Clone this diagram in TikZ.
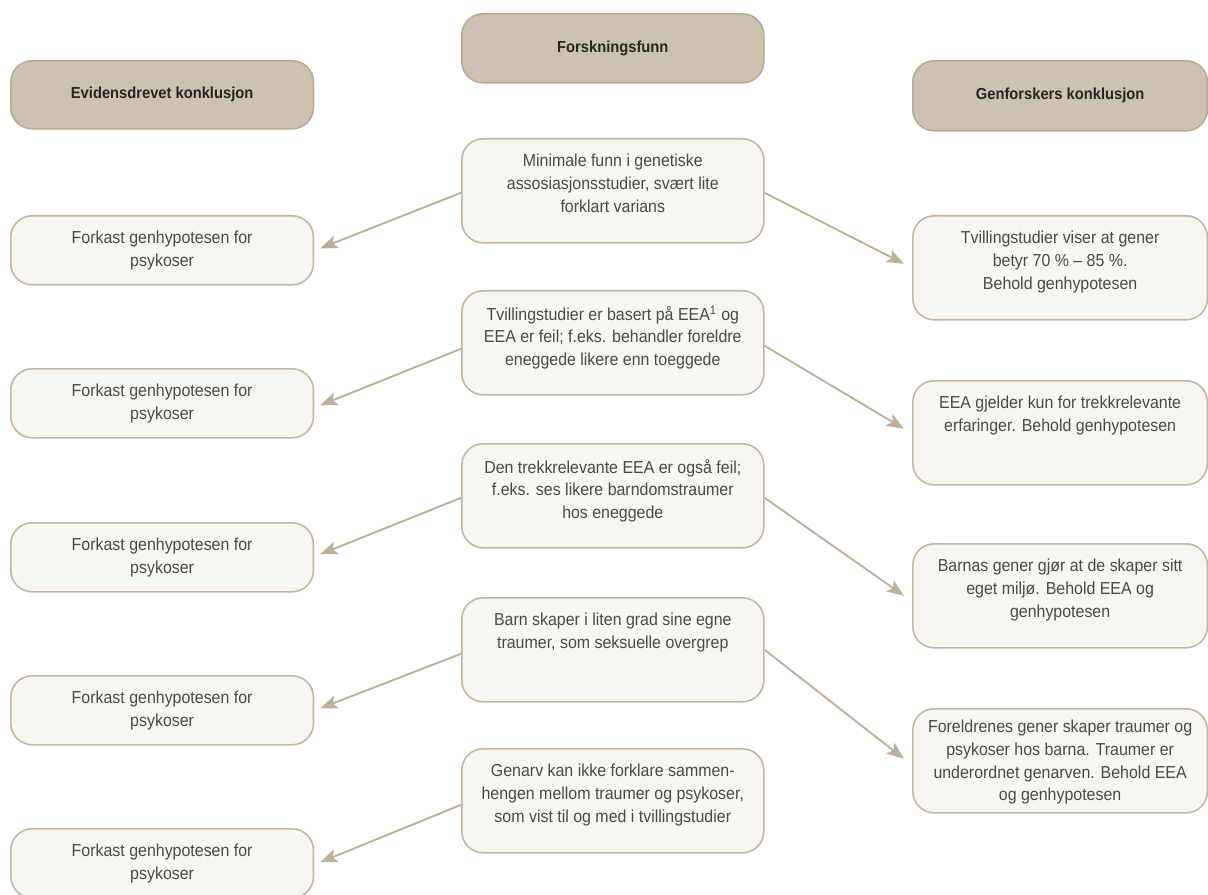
\documentclass[tikz,border=0pt]{standalone}
\usepackage{fontspec}
\setmainfont[FakeStretch=0.92]{Liberation Sans}
\usetikzlibrary{arrows.meta,calc}
\definecolor{hdrfill}{HTML}{CDC1B1}
\definecolor{hdrdraw}{HTML}{BCAA92}
\definecolor{boxfill}{HTML}{F8F6F2}
\definecolor{boxdraw}{HTML}{C6B69F}
\definecolor{arrcol}{HTML}{C0AF98}
\definecolor{txtcol}{HTML}{4A4A4A}
\newcommand{\tbox}[3]{\parbox[c][#1][t]{#2}{\centering\vspace*{11.5pt}#3}}
\tikzset{
  hdr/.style={draw=hdrdraw, fill=hdrfill, line width=1.2pt, rounded corners=16pt,
    anchor=north west, inner sep=0pt, font=\fontsize{12}{14}\selectfont\bfseries, text=black!85},
  cbox/.style={draw=boxdraw, fill=boxfill, line width=1.2pt, rounded corners=16pt,
    anchor=north west, inner sep=0pt, font=\fontsize{13}{17}\selectfont, text=txtcol},
  arr/.style={draw=arrcol, line width=1.4pt, -{Stealth[length=13pt,width=10pt,inset=3pt]}}
}
\begin{document}
\begin{tikzpicture}[x=0.75pt,y=-0.75pt]
\useasboundingbox (0,0) rectangle (1208,895);
\clip (0,0) rectangle (1208,895);
% headers
\node[hdr, minimum width=227pt, minimum height=51pt] (hL) at (10,60) {Evidensdrevet konklusjon};
\node[hdr, minimum width=226.5pt, minimum height=51.75pt] (hM) at (461,13) {Forskningsfunn};
\node[hdr, minimum width=221pt, minimum height=52.5pt] (hR) at (912,60) {Genforskers konklusjon};
% left column
\node[cbox] (L1) at (10,215) {\tbox{51.75pt}{227pt}{Forkast genhypotesen for\\psykoser}};
\node[cbox] (L2) at (10,368) {\tbox{51.75pt}{227pt}{Forkast genhypotesen for\\psykoser}};
\node[cbox] (L3) at (10,522) {\tbox{51.75pt}{227pt}{Forkast genhypotesen for\\psykoser}};
\node[cbox] (L4) at (10,675) {\tbox{51.75pt}{227pt}{Forkast genhypotesen for\\psykoser}};
\node[cbox] (L5) at (10,828) {\tbox{51.75pt}{227pt}{Forkast genhypotesen for\\psykoser}};
% middle column
\node[cbox] (M1) at (461,138) {\tbox{78pt}{226.5pt}{Minimale funn i genetiske\\assosiasjonsstudier, svært lite\\forklart varians}};
\node[cbox] (M2) at (461,290) {\tbox{78pt}{226.5pt}{Tvillingstudier er basert på EEA\textsuperscript{1} og\\EEA er feil; f.eks. behandler foreldre\\eneggede likere enn toeggede}};
\node[cbox] (M3) at (461,443) {\tbox{78pt}{226.5pt}{Den trekkrelevante EEA er også feil;\\f.eks. ses likere barndomstraumer\\hos eneggede}};
\node[cbox] (M4) at (461,597) {\tbox{78pt}{226.5pt}{Barn skaper i liten grad sine egne\\traumer, som seksuelle overgrep}};
\node[cbox] (M5) at (461,748) {\tbox{78pt}{226.5pt}{Genarv kan ikke forklare sammen-\\hengen mellom traumer og psykoser,\\som vist til og med i tvillingstudier}};
% right column
\node[cbox] (R1) at (912,215) {\tbox{78pt}{221pt}{Tvillingstudier viser at gener\\betyr 70 \% – 85 \%.\\Behold genhypotesen}};
\node[cbox] (R2) at (912,380) {\tbox{78pt}{221pt}{EEA gjelder kun for trekkrelevante\\erfaringer. Behold genhypotesen}};
\node[cbox] (R3) at (912,543) {\tbox{78pt}{221pt}{Barnas gener gjør at de skaper sitt\\eget miljø. Behold EEA og\\genhypotesen}};
\node[cbox] (R4) at (912,708) {\tbox{78pt}{221pt}{\vspace*{-3pt}Foreldrenes gener skaper traumer og\\psykoser hos barna. Traumer er\\underordnet genarven. Behold EEA\\og genhypotesen}};
% arrows left
\draw[arr] ($(M1.west)+(0,2)$) -- ($(L1.east)+(6,-2)$);
\draw[arr] ($(M2.west)+(0,6)$) -- ($(L2.east)+(6,2)$);
\draw[arr] ($(M3.west)+(0,2)$) -- ($(L3.east)+(6,-3)$);
\draw[arr] ($(M4.west)+(0,4)$) -- ($(L4.east)+(6,-2)$);
\draw[arr] ($(M5.west)+(0,4)$) -- ($(L5.east)+(6,-1)$);
% arrows right
\draw[arr] ($(M1.east)+(0,2)$) -- ($(R1.west)+(-8,-4)$);
\draw[arr] ($(M2.east)+(0,3)$) -- ($(R2.west)+(-8,-4)$);
\draw[arr] ($(M3.east)+(0,2)$) -- ($(R3.west)+(-8,0)$);
\draw[arr] ($(M4.east)+(0,0)$) -- ($(R4.west)+(-8,-2)$);
\end{tikzpicture}
\end{document}
